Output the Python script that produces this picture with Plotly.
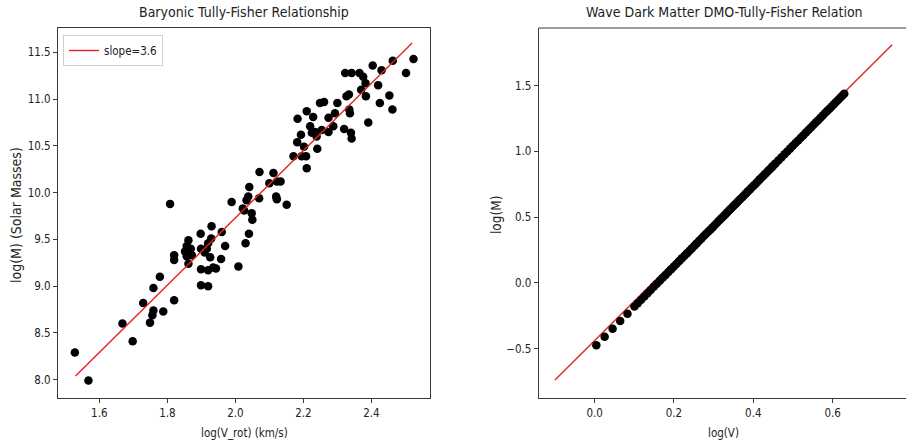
import plotly.graph_objects as go

# ---------------- data: Baryonic Tully-Fisher ----------------
btf_logv = [1.528, 1.568, 1.668, 1.698, 1.729, 1.749, 1.756, 1.759, 1.759, 1.778,
            1.788, 1.808, 1.820, 1.820, 1.820, 1.852, 1.857, 1.862, 1.869, 1.857,
            1.862, 1.872, 1.898, 1.899, 1.899, 1.899, 1.920, 1.920, 1.916, 1.926,
            1.930, 1.929, 1.935, 1.943, 1.920, 1.910, 1.960, 1.958, 1.970, 1.989,
            2.009, 2.030, 2.040, 2.026, 2.038, 2.041, 2.033, 2.048, 2.050, 2.022,
            2.071, 2.070, 2.100, 2.112, 2.122, 2.133, 2.120, 2.122, 2.151, 2.171,
            2.182, 2.183, 2.193, 2.195, 2.202, 2.208, 2.210, 2.210, 2.229, 2.220,
            2.225, 2.234, 2.239, 2.241, 2.249, 2.261, 2.254, 2.274, 2.274, 2.288,
            2.293, 2.300, 2.320, 2.323, 2.327, 2.334, 2.337, 2.340, 2.342, 2.342,
            2.365, 2.376, 2.383, 2.384, 2.370, 2.391, 2.404, 2.420, 2.425, 2.430,
            2.453, 2.462, 2.463, 2.502, 2.524, 2.335]
btf_logm = [8.29, 7.99, 8.60, 8.41, 8.82, 8.61, 8.69, 8.74, 8.98, 9.10,
            8.73, 9.88, 8.85, 9.33, 9.28, 9.37, 9.43, 9.49, 9.40, 9.32,
            9.24, 9.33, 9.56, 9.40, 9.18, 9.01, 9.00, 9.17, 9.40, 9.31,
            9.64, 9.51, 9.20, 9.19, 9.46, 9.36, 9.58, 9.29, 9.43, 9.90,
            9.21, 9.46, 9.56, 9.81, 9.96, 10.06, 9.92, 9.78, 9.71, 9.83,
            10.22, 9.94, 10.10, 10.21, 10.12, 10.12, 9.96, 9.93, 9.87, 10.39,
            10.54, 10.79, 10.62, 10.39, 10.49, 10.39, 10.26, 10.87, 10.81, 10.71,
            10.64, 10.65, 10.60, 10.47, 10.96, 10.97, 10.67, 10.80, 10.65, 10.71,
            10.85, 10.96, 10.68, 11.28, 11.03, 11.05, 10.85, 10.64, 10.58, 11.28,
            11.28, 11.24, 11.17, 11.03, 11.10, 10.75, 11.36, 11.15, 10.96, 11.31,
            11.04, 10.89, 11.41, 11.28, 11.43, 10.89]
btf_fit_x = [1.53, 2.52]
btf_fit_y = [8.04, 11.60]

# ---------------- data: Wave Dark Matter DMO-TF ----------------
dmo_logv = [0.0043, 0.0253, 0.0453, 0.0645, 0.0828, 0.1004, 0.1173, 0.1335, 0.1492, 0.1644,
            0.1790, 0.1931, 0.2068, 0.2201, 0.2330, 0.2455, 0.2577, 0.2695, 0.2810, 0.2923,
            0.3032, 0.3139, 0.3243, 0.3345, 0.3444, 0.3541, 0.3636, 0.3729, 0.3820, 0.3909,
            0.3997, 0.4082, 0.4166, 0.4249, 0.4330, 0.4409, 0.4487, 0.4564, 0.4639, 0.4713,
            0.4786, 0.4857, 0.4928, 0.4997, 0.5065, 0.5132, 0.5198, 0.5263, 0.5328, 0.5391,
            0.5453, 0.5514, 0.5575, 0.5635, 0.5694, 0.5752, 0.5809, 0.5866, 0.5922, 0.5977,
            0.6031, 0.6085, 0.6138, 0.6191, 0.6243, 0.6294,
            0.1089, 0.1254, 0.1414, 0.1568, 0.1717, 0.1861, 0.2000, 0.2135, 0.2266, 0.2393,
            0.2516, 0.2636, 0.2753, 0.2867, 0.2978, 0.3086, 0.3191, 0.3294, 0.3395, 0.3493,
            0.3589, 0.3683, 0.3775, 0.3865, 0.3953, 0.4040, 0.4124, 0.4208, 0.4290, 0.4370,
            0.4448, 0.4526]
dmo_logm = [-0.475, -0.411, -0.349, -0.291, -0.235, -0.181, -0.129, -0.079, -0.031, 0.015,
            0.060, 0.103, 0.145, 0.186, 0.225, 0.263, 0.301, 0.337, 0.372, 0.406,
            0.440, 0.473, 0.504, 0.536, 0.566, 0.596, 0.625, 0.653, 0.681, 0.708,
            0.735, 0.761, 0.787, 0.812, 0.837, 0.861, 0.885, 0.909, 0.932, 0.954,
            0.977, 0.998, 1.020, 1.041, 1.062, 1.082, 1.103, 1.122, 1.142, 1.162,
            1.181, 1.199, 1.218, 1.236, 1.254, 1.272, 1.290, 1.307, 1.324, 1.341,
            1.357, 1.374, 1.390, 1.406, 1.422, 1.438,
            -0.155, -0.104, -0.055, -0.008, 0.038, 0.082, 0.124, 0.166, 0.206, 0.244,
            0.282, 0.319, 0.355, 0.389, 0.423, 0.457, 0.489, 0.520, 0.551, 0.581,
            0.611, 0.639, 0.667, 0.695, 0.722, 0.748, 0.774, 0.800, 0.825, 0.849,
            0.873, 0.897]
dmo_fit_x = [-0.10, 0.75]
dmo_fit_y = [-0.74, 1.81]

left_xticks = [1.6, 1.8, 2.0, 2.2, 2.4]
left_yticks = [8.0, 8.5, 9.0, 9.5, 10.0, 10.5, 11.0, 11.5]
right_xticks = [0.0, 0.2, 0.4, 0.6]
right_yticks = [-0.5, 0.0, 0.5, 1.0, 1.5]

W, H = 906, 444
FONT = "DejaVu Sans Condensed, Liberation Sans Narrow, DejaVu Sans"
TXT = "#222222"
SPINE = "#3a3a3a"
RED = "#e8202a"

fig = go.Figure()
fig.add_trace(go.Scatter(x=btf_logv, y=btf_logm, mode="markers",
                         marker=dict(color="black", size=8.5), showlegend=False,
                         xaxis="x", yaxis="y"))
fig.add_trace(go.Scatter(x=btf_fit_x, y=btf_fit_y, mode="lines", name="slope=3.6",
                         line=dict(color=RED, width=1.4), xaxis="x", yaxis="y"))
# right panel: line underneath, dots on top
fig.add_trace(go.Scatter(x=dmo_fit_x, y=dmo_fit_y, mode="lines", showlegend=False,
                         line=dict(color=RED, width=1.4), xaxis="x2", yaxis="y2"))
fig.add_trace(go.Scatter(x=dmo_logv, y=dmo_logm, mode="markers",
                         marker=dict(color="black", size=8.5), showlegend=False,
                         xaxis="x2", yaxis="y2"))

ydom = [46 / H, 416 / H]
ax_common = dict(showgrid=False, zeroline=False, ticks="outside", ticklen=4,
                 tickcolor=SPINE, tickwidth=1, showline=True, linecolor=SPINE,
                 linewidth=1, tickfont=dict(family=FONT, size=11.5, color=TXT))

fig.update_layout(
    width=W, height=H, margin=dict(l=0, r=0, t=0, b=0),
    paper_bgcolor="white", plot_bgcolor="white",
    xaxis=dict(domain=[58 / W, 430 / W], range=[1.4784, 2.5725], tickvals=left_xticks,
               ticktext=[f"{v:.1f}" for v in left_xticks], anchor="y", mirror=True, **ax_common),
    yaxis=dict(domain=ydom, range=[7.804, 11.761], tickvals=left_yticks,
               ticktext=[f"{v:.1f}" for v in left_yticks], anchor="x", mirror=True, **ax_common),
    xaxis2=dict(domain=[538.7 / W, 1.0], range=[-0.141, 0.785], tickvals=right_xticks,
                ticktext=[f"{v:.1f}" for v in right_xticks], anchor="y2", **ax_common),
    yaxis2=dict(domain=ydom, range=[-0.876, 1.937], tickvals=right_yticks,
                ticktext=["\u22120.5", "0.0", "0.5", "1.0", "1.5"], anchor="x2", **ax_common),
    legend=dict(x=63 / W, y=(H - 35) / H, xanchor="left", yanchor="top",
                bgcolor="white", bordercolor="#d0d0d0", borderwidth=1,
                font=dict(family=FONT, size=11.5, color=TXT), itemwidth=30),
)

# top spine of the right axes
fig.add_shape(type="line", xref="paper", yref="paper", x0=538.7 / W, x1=1.0,
              y0=416 / H, y1=416 / H, line=dict(color=SPINE, width=1))

def ann(text, x, y, size, angle=0):
    fig.add_annotation(text=text, x=x / W, y=1 - y / H, xref="paper", yref="paper",
                       showarrow=False, textangle=angle, xanchor="center", yanchor="middle",
                       font=dict(family=FONT, size=size, color=TXT))

ann("Baryonic Tully-Fisher Relationship", 244, 12, 14)
ann("Wave Dark Matter DMO-Tully-Fisher Relation", 724, 12, 14)
ann("log(V_rot) (km/s)", 244, 433, 11.5)
ann("log(V)", 723, 433, 11.5)
ann("log(M) (Solar Masses)", 16, 215, 14, -90)
ann("log(M)", 496, 215, 13.5, -90)

fig.write_html("out.html")
